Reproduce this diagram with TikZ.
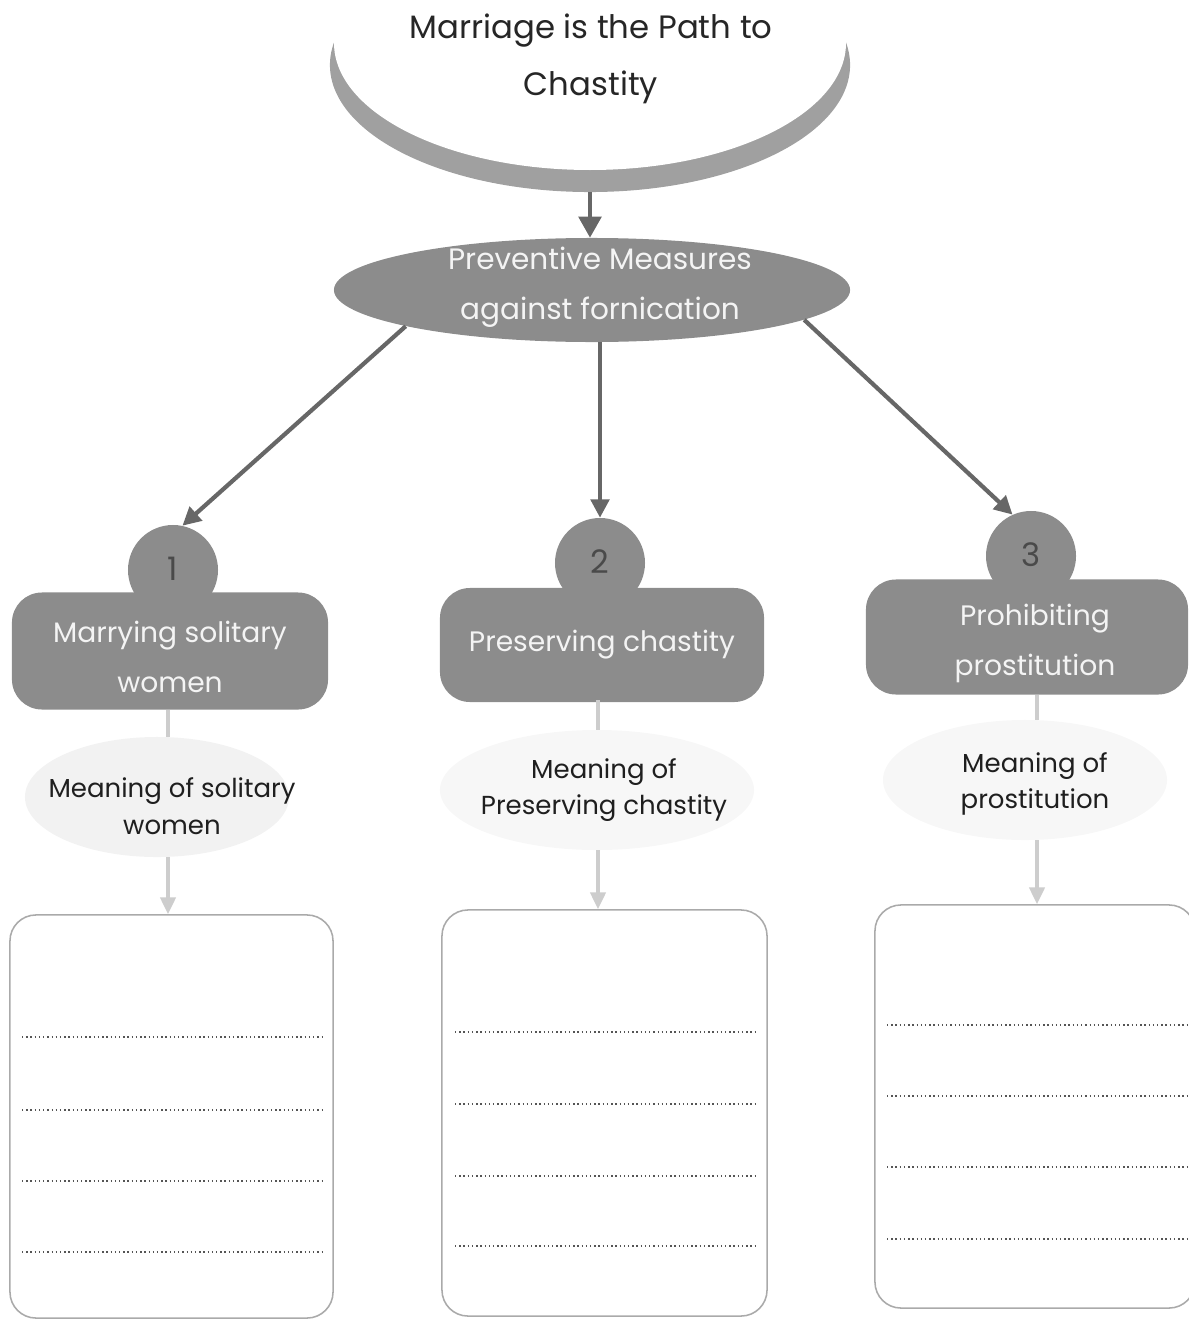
\documentclass[tikz,border=0pt]{standalone}
\usepackage{fontspec}
\setmainfont{Poppins}
\usetikzlibrary{shapes.geometric,arrows.meta}
\definecolor{boxgray}{HTML}{8C8C8C}
\definecolor{rimgray}{HTML}{A0A0A0}
\definecolor{toplight}{HTML}{FFFFFF}
\definecolor{arrowgray}{HTML}{676767}
\definecolor{palegray}{HTML}{F2F2F2}
\definecolor{palergray}{HTML}{F7F7F7}
\definecolor{faintgray}{HTML}{CDCDCD}
\definecolor{textwhite}{HTML}{F4F4F4}
\definecolor{numgray}{HTML}{4A4A4A}
\definecolor{framegray}{HTML}{AAAAAA}
\definecolor{dotgray}{HTML}{555555}
\begin{document}
\begin{tikzpicture}[x=0.025cm,y=-0.025cm,
  darkbox/.style={rectangle, rounded corners=0.75cm, fill=boxgray, inner sep=0pt},
  boxtext/.style={align=center, text=textwhite, font=\fontsize{20}{35.5}\selectfont},
  numcirc/.style={circle, fill=boxgray, inner sep=0pt, minimum size=2.25cm},
  numtext/.style={text=numgray, font=\fontsize{23}{26}\selectfont},
  paleell/.style={ellipse, inner sep=0pt},
  meantext/.style={align=center, text=black!88, font=\fontsize{18.5}{26}\selectfont},
  answerbox/.style={rectangle, rounded corners=0.65cm, draw=framegray, line width=1.1pt, inner sep=0pt},
  mainarrow/.style={draw=arrowgray, line width=3pt, -{Triangle[length=13pt,width=13pt]}},
  toparrow/.style={draw=arrowgray, line width=3pt, -{Triangle[length=15pt,width=16pt]}},
  faintline/.style={draw=faintgray, line width=2.2pt},
  faintarrow/.style={draw=faintgray, line width=2.2pt, -{Triangle[length=12pt,width=11pt]}},
  dotline/.style={draw=dotgray, line width=1pt, dotted}
]
\useasboundingbox (0,0) rectangle (1189,1321);
\clip (0,0) rectangle (1189,1321);

% top ellipse (crescent rim)
\node[ellipse, fill=rimgray, inner sep=0pt, minimum width=13cm, minimum height=6.35cm] (top) at (590,65) {};
\fill[toplight] (590,43) ellipse [x radius=256, y radius=127];
\node[align=center, text=black!85, font=\fontsize{23}{41}\selectfont] (title) at (591,59) {Marriage is the Path to\\Chastity};

% preventive measures ellipse
\node[ellipse, fill=boxgray, inner sep=0pt, minimum width=12.9cm, minimum height=2.6cm] (pm) at (592,290) {};
\node[align=center, text=textwhite, font=\fontsize{21}{35.5}\selectfont] (pmtext) at (600,287) {Preventive Measures\\against fornication};

\draw[toparrow] (top.south) -- (top.south |- pm.north);

% numbered circles
\node[numcirc] (c1) at (173,570) {};
\node[numcirc] (c2) at (600,563) {};
\node[numcirc] (c3) at (1031,556) {};

% dark boxes
\node[darkbox, minimum width=7.9cm, minimum height=2.925cm] (b1) at (170,651) {};
\node[darkbox, minimum width=8.1cm, minimum height=2.85cm] (b2) at (602,645) {};
\node[darkbox, minimum width=8.05cm, minimum height=2.875cm] (b3) at (1027,637) {};

\node[numtext] (n1) at (173,569) {1};
\node[numtext] (n2) at (600,562) {2};
\node[numtext] (n3) at (1031,555) {3};

\node[boxtext] (t1) at (170,657) {Marrying solitary\\women};
\node[boxtext] (t2) at (602,645) {Preserving chastity};
\node[boxtext] (t3) at (1035,643) {Prohibiting\\prostitution};

% main arrows
\draw[mainarrow] (pm.191) -- (c1.78);
\draw[mainarrow] (pm.south -| c2.north) -- (c2.north);
\draw[mainarrow] (pm.-8) -- (c3.114);

% pale ellipses
\node[paleell, fill=palegray, minimum width=6.6cm, minimum height=3cm] (e1) at (157,797) {};
\node[paleell, fill=palergray, minimum width=7.85cm, minimum height=3cm] (e2) at (597,790) {};
\node[paleell, fill=palergray, minimum width=7.1cm, minimum height=3cm] (e3) at (1025,780) {};

\node[meantext] (m1) at (172,806) {Meaning of solitary\\women};
\node[meantext] (m2) at (604,790) {Meaning of\\Preserving chastity};
\node[meantext] (m3) at (1035,784) {Meaning of\\prostitution};

% answer boxes
\node[answerbox, minimum width=8.075cm, minimum height=10.075cm] (a1) at (171.5,1116.5) {};
\node[answerbox, minimum width=8.125cm, minimum height=10.15cm] (a2) at (604.5,1113) {};
\node[answerbox, minimum width=8.0cm, minimum height=10.075cm] (a3) at (1035,1106.5) {};

% faint connectors
\coordinate (k1) at (168,710);
\coordinate (k2) at (598,700);
\coordinate (k3) at (1037,695);
\draw[faintline] (k1) -- (k1 |- e1.north);
\draw[faintline] (k2) -- (k2 |- e2.north);
\draw[faintline] (k3) -- (k3 |- e3.north);
\draw[faintarrow] (k1 |- e1.south) -- (k1 |- a1.north);
\draw[faintarrow] (k2 |- e2.south) -- (k2 |- a2.north);
\draw[faintarrow] (k3 |- e3.south) -- (k3 |- a3.north);

% dotted writing lines
\foreach \yy in {1037,1110,1181,1252} \draw[dotline] (22,\yy) -- (323,\yy);
\foreach \yy in {1032,1104,1176,1246} \draw[dotline] (455,\yy) -- (757,\yy);
\foreach \yy in {1025,1096,1167,1239} \draw[dotline] (887,\yy) -- (1189,\yy);
\end{tikzpicture}
\end{document}
